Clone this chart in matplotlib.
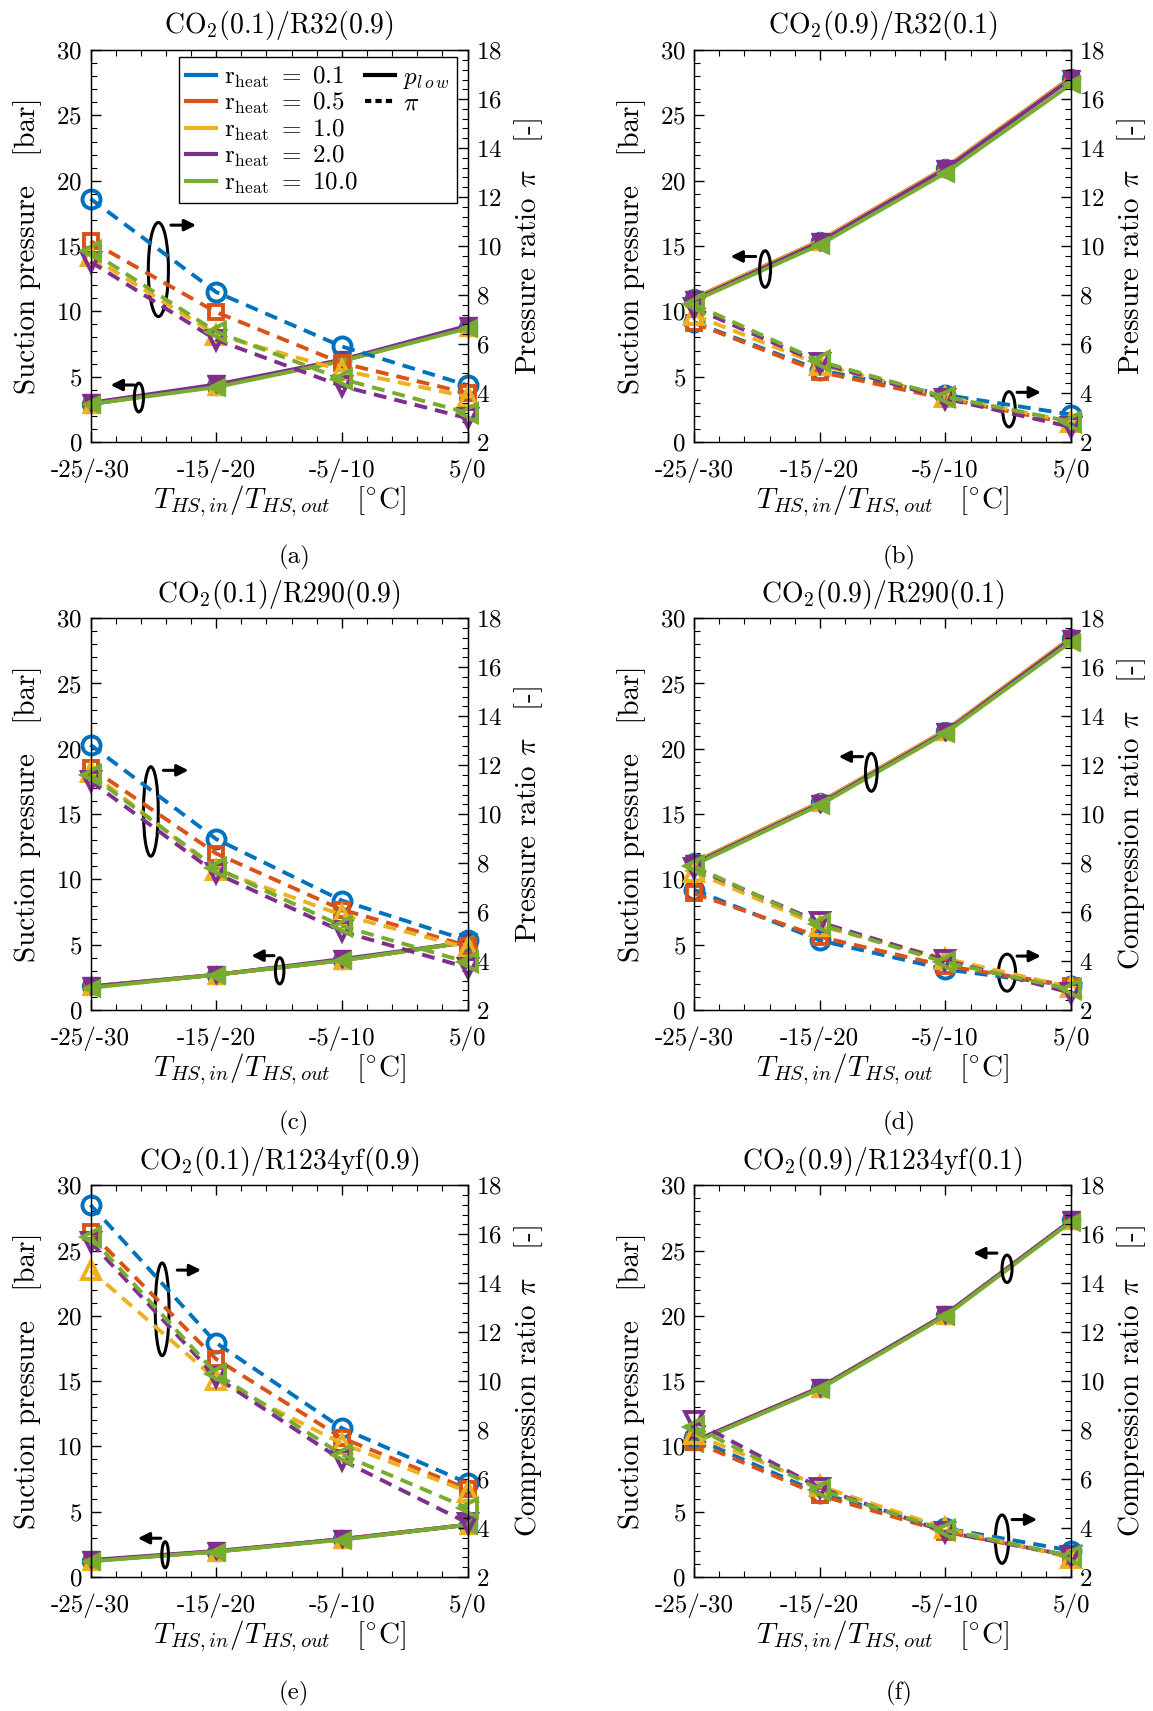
import numpy as np
import matplotlib
matplotlib.use("Agg")
import matplotlib.pyplot as plt
import matplotlib.ticker as mticker
from matplotlib.lines import Line2D
from matplotlib.patches import Ellipse

plt.rcParams["font.family"] = "serif"
plt.rcParams["font.serif"] = ["cmr10"]
plt.rcParams["mathtext.fontset"] = "cm"
plt.rcParams["axes.formatter.use_mathtext"] = True

# ---- data ----
x_labels = ["-25/-30", "-15/-20", "-5/-10", "5/0"]
r_heat = ["0.1", "0.5", "1.0", "2.0", "10.0"]
colors = ["#0072BD", "#D95319", "#EDB120", "#7E2F8E", "#77AC30"]
markers = ["o", "s", "^", "v", "<"]
msizes = [13, 10.5, 13, 13, 13]

titles = ["CO$_2$(0.1)/R32(0.9)", "CO$_2$(0.9)/R32(0.1)",
          "CO$_2$(0.1)/R290(0.9)", "CO$_2$(0.9)/R290(0.1)",
          "CO$_2$(0.1)/R1234yf(0.9)", "CO$_2$(0.9)/R1234yf(0.1)"]
right_names = ["Pressure ratio", "Pressure ratio", "Pressure ratio",
               "Compression ratio", "Compression ratio", "Compression ratio"]
captions = ["(a)", "(b)", "(c)", "(d)", "(e)", "(f)"]

# suction pressure p_low [bar], one row per r_heat
p_a = [[2.9, 4.3, 6.2, 8.8], [2.9, 4.3, 6.2, 8.8], [2.9, 4.3, 6.2, 8.8],
       [3.0, 4.4, 6.3, 8.9], [2.9, 4.2, 6.2, 8.7]]
p_b = [[11.0, 15.4, 21.0, 27.9], [11.0, 15.4, 21.0, 27.9], [11.0, 15.4, 21.0, 27.9],
       [10.9, 15.3, 20.9, 27.8], [10.8, 15.1, 20.6, 27.4]]
p_c = [[1.8, 2.7, 3.8, 5.2], [1.8, 2.7, 3.8, 5.2], [1.8, 2.7, 3.8, 5.2],
       [1.8, 2.7, 3.9, 5.2], [1.7, 2.7, 3.8, 5.2]]
p_d = [[11.3, 15.9, 21.4, 28.5], [11.3, 15.9, 21.4, 28.5], [11.3, 15.9, 21.4, 28.5],
       [11.2, 15.8, 21.3, 28.4], [11.1, 15.7, 21.2, 28.2]]
p_e = [[1.25, 1.95, 2.9, 4.0], [1.25, 1.95, 2.9, 4.0], [1.25, 1.95, 2.9, 4.0],
       [1.3, 2.0, 2.9, 4.0], [1.2, 1.95, 2.85, 4.0]]
p_f = [[10.4, 14.5, 20.1, 27.3], [10.4, 14.5, 20.1, 27.3], [10.4, 14.5, 20.1, 27.3],
       [10.4, 14.5, 20.1, 27.3], [10.3, 14.4, 20.0, 27.2]]

# pressure / compression ratio pi [-]
pi_a = [[11.93, 8.12, 5.90, 4.31], [10.20, 7.30, 5.22, 3.99], [9.58, 6.38, 4.93, 3.84],
        [9.36, 6.17, 4.28, 2.97], [9.80, 6.50, 4.57, 3.19]]
pi_b = [[6.89, 4.93, 3.92, 3.12], [6.86, 4.86, 3.77, 2.75], [7.18, 5.15, 3.84, 2.83],
        [7.47, 5.22, 3.77, 2.61], [7.62, 5.29, 3.84, 2.83]]
pi_c = [[12.83, 8.98, 6.47, 4.84], [11.90, 8.39, 6.10, 4.62], [11.72, 7.72, 5.88, 4.54],
        [11.35, 7.58, 5.21, 3.73], [11.60, 7.80, 5.43, 3.95]]
pi_d = [[6.91, 4.84, 3.66, 2.99], [6.76, 4.99, 3.80, 2.99], [7.65, 5.43, 4.10, 2.92],
        [7.80, 5.58, 4.03, 2.70], [7.87, 5.50, 3.95, 2.84]]
pi_e = [[17.20, 11.56, 8.08, 5.84], [16.08, 10.90, 7.68, 5.60], [14.53, 10.06, 7.45, 5.49],
        [15.69, 10.16, 6.77, 4.21], [15.89, 10.31, 7.00, 4.82]]
pi_f = [[7.68, 5.42, 3.99, 3.08], [7.53, 5.34, 3.84, 2.86], [7.83, 5.72, 3.99, 2.78],
        [8.36, 5.64, 3.84, 2.86], [8.13, 5.57, 3.91, 2.86]]

p_all = [p_a, p_b, p_c, p_d, p_e, p_f]
pi_all = [pi_a, pi_b, pi_c, pi_d, pi_e, pi_f]

# annotation ellipses + arrows (left-axis data coords): (cx, cy, w, h), (x_from, x_to, y)
notes = [
    [((0.54, 13.2, 0.16, 7.2), (0.64, 0.84, 16.6)), ((0.385, 3.4, 0.073, 2.2), (0.35, 0.16, 4.36))],
    [((0.565, 13.24, 0.087, 2.8), (0.49, 0.29, 14.2)), ((2.505, 2.5, 0.10, 2.7), (2.57, 2.76, 3.8))],
    [((0.48, 15.2, 0.118, 6.85), (0.58, 0.78, 18.35)), ((1.505, 3.0, 0.068, 2.0), (1.46, 1.28, 4.16))],
    [((1.41, 18.2, 0.093, 2.9), (1.34, 1.15, 19.4)), ((2.49, 2.86, 0.136, 2.83), (2.57, 2.76, 4.13))],
    [((0.57, 20.5, 0.11, 7.1), (0.69, 0.88, 23.5)), ((0.594, 1.7, 0.053, 2.0), (0.56, 0.376, 2.97))],
    [((2.49, 23.6, 0.08, 2.1), (2.41, 2.22, 24.8)), ((2.45, 2.9, 0.107, 3.7), (2.53, 2.73, 4.4))],
]

x = np.arange(len(x_labels))

fig = plt.figure(figsize=(11.53, 17.11), dpi=100)
lefts = [0.0785, 0.602]
bottoms = [0.7417, 0.4097, 0.0783]
w, h = 0.327, 0.229
cap_x = [0.255, 0.78]
cap_y = [0.674, 0.3434, 0.0105]

for k in range(6):
    row, col = k // 2, k % 2
    ax = fig.add_axes([lefts[col], bottoms[row], w, h])
    ax2 = ax.twinx()

    for i in range(5):
        ax.plot(x, p_all[k][i], color=colors[i], lw=2.8, marker=markers[i],
                ms=msizes[i], mfc=colors[i], mec=colors[i], clip_on=False)
    for i in range(5):
        ax2.plot(x, pi_all[k][i], color=colors[i], lw=2.8, dashes=(3.3, 2.1),
                 marker=markers[i], ms=msizes[i], mfc="none", mec=colors[i], mew=2.8,
                 clip_on=False)

    ax.set_xlim(0, 3)
    ax.set_ylim(0, 30)
    ax2.set_ylim(2, 18)
    ax.set_xticks(x)
    ax.set_xticklabels(x_labels)
    ax.set_yticks(np.arange(0, 31, 5))
    ax2.set_yticks(np.arange(2, 19, 2))
    ax.xaxis.set_minor_locator(mticker.AutoMinorLocator(5))
    ax.yaxis.set_minor_locator(mticker.MultipleLocator(1))
    ax2.yaxis.set_minor_locator(mticker.MultipleLocator(0.4))
    ax.tick_params(which="both", direction="in", top=True, right=False, labelsize=18, pad=6)
    ax.tick_params(axis="x", which="both", pad=12)
    ax2.tick_params(which="both", direction="in", labelsize=18, pad=6)
    for a in (ax, ax2):
        a.tick_params(which="major", length=7, width=1)
        a.tick_params(which="minor", length=4, width=0.8)
    for s in ax.spines.values():
        s.set_linewidth(1.0)

    ax.set_title(titles[k], fontsize=20, pad=12)
    ax.set_xlabel(r"$T_{HS,in}/T_{HS,out}\quad[{}^{\circ}\mathrm{C}]$", fontsize=21, labelpad=0)
    ax.set_ylabel(r"Suction pressure   [bar]", fontsize=21, labelpad=10)
    ax2.set_ylabel(right_names[k] + r" $\pi$   [-]", fontsize=21, labelpad=7)

    for (cx, cy, ew, eh), (xa, xb, ya) in notes[k]:
        ax.add_patch(Ellipse((cx, cy), ew, eh, fill=False, ec="k", lw=2.2, zorder=5))
        ax.annotate("", xy=(xb, ya), xytext=(xa, ya),
                    arrowprops=dict(arrowstyle="-|>", color="k", lw=2.2, mutation_scale=17,
                                    shrinkA=0, shrinkB=0), zorder=5)

    fig.text(cap_x[col], cap_y[row], captions[k], ha="center", va="center", fontsize=18)

    if k == 0:
        handles = [Line2D([], [], color=c, lw=3) for c in colors]
        labels = [r"$\mathrm{r}_{\mathrm{heat}}\ =\ $" + r for r in r_heat]
        handles += [Line2D([], [], color="k", lw=3),
                    Line2D([], [], color="k", lw=3, dashes=(1.5, 1))]
        labels += [r"$p_{l\,o\,w}$", r"$\pi$"]
        for _ in range(3):
            handles.append(Line2D([], [], color="none"))
            labels.append("")
        ax2.legend(handles, labels, ncol=2, loc="upper right",
                   bbox_to_anchor=(0.971, 0.982), borderaxespad=0,
                   frameon=True, fancybox=False, edgecolor="k", framealpha=1,
                   fontsize=18, handlelength=1.2, handletextpad=0.3,
                   columnspacing=0.3, labelspacing=0.05, borderpad=0.3)

fig.savefig("out.png", dpi=100)
